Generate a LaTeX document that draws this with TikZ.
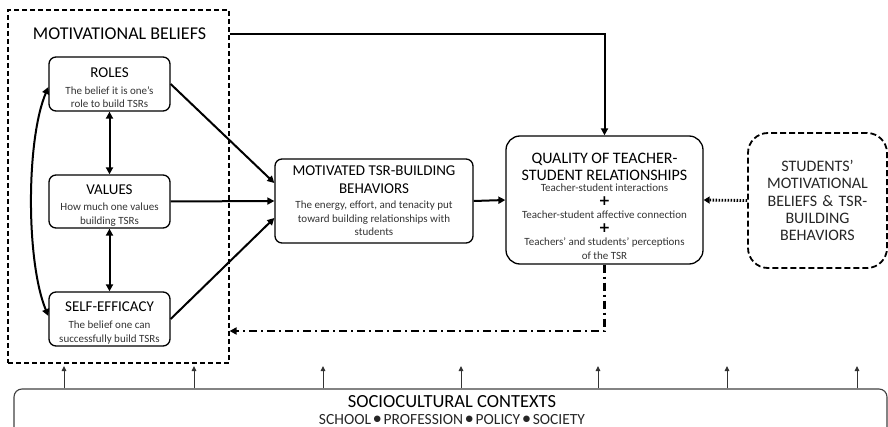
\documentclass[tikz,border=0pt]{standalone}
\usepackage{fontspec}
\setmainfont{Carlito}
\newfontfamily\symfont{DejaVu Sans}
\usetikzlibrary{arrows.meta,calc}
\newcommand\bxttl{\fontsize{15}{17}\selectfont}
\newcommand\qlttl{\fontsize{16}{17}\selectfont}
\newcommand\bxdsc{\fontsize{11}{13}\selectfont\color{black!80}}
\newcommand\plussign{\symfont\bfseries\fontsize{14}{13.5}\selectfont +}
\newcommand\socdot{\,\raisebox{2.6pt}{\symfont\fontsize{8.5}{8.5}\selectfont ●}\,}
\begin{document}
\begin{tikzpicture}[x=1pt,y=-1pt,
  rbox/.style={draw,line width=1.3pt,rounded corners=7pt,inner sep=0pt,align=center},
  thk/.style={line width=2pt},
  arr/.style={thk,-{Triangle[length=7pt,width=7pt]}},
  darr/.style={thk,{Triangle[length=7pt,width=7pt]}-{Triangle[length=7pt,width=7pt]}},
  soc/.style={draw=black!75,line width=1.1pt},
  socarr/.style={draw=black!80,line width=1pt,-{Triangle[length=5pt,width=4.5pt]}}]
\useasboundingbox (0,0) rectangle (888,427);
% motivational beliefs frame
\node[draw,line width=1.1pt,dash pattern=on 5pt off 3pt,minimum width=221pt,minimum height=353pt,inner sep=0pt] (mb) at (118.5,186.5) {};
\node[inner sep=0pt,font=\fontsize{18}{20}\selectfont] (mbt) at (119.5,34) {MOTIVATIONAL BELIEFS};
% belief boxes
\node[rbox,minimum width=121pt,minimum height=54pt,font=\fontsize{11}{12.5}\selectfont] (roles) at (109.5,84)
  {\rule{0pt}{17pt}\bxttl ROLES\\[5pt] \bxdsc The belief it is one’s\\ \bxdsc role to build TSRs};
\node[rbox,minimum width=121pt,minimum height=53pt,font=\fontsize{11}{14}\selectfont] (values) at (109.5,201.5)
  {\rule{0pt}{17pt}\bxttl VALUES\\[2pt] \bxdsc How much one values\\ \bxdsc building TSRs};
\node[rbox,minimum width=121pt,minimum height=54pt,font=\fontsize{11}{14}\selectfont] (self) at (109.5,319)
  {\rule{0pt}{18pt}\bxttl SELF-EFFICACY\\[3pt] \bxdsc The belief one can\\ \bxdsc successfully build TSRs};
% behaviors
\node[rbox,minimum width=198pt,minimum height=84pt,font=\fontsize{11}{13.5}\selectfont] (motiv) at (374,201)
  {\bxttl MOTIVATED TSR-BUILDING\\[4pt] \bxttl BEHAVIORS\\[2pt] \bxdsc The energy, effort, and tenacity put\\ \bxdsc toward building relationships with\\ \bxdsc students};
% quality
\node[rbox,minimum width=197pt,minimum height=128pt,rounded corners=14pt,font=\fontsize{11}{13.5}\selectfont] (qual) at (604.5,200)
  {\rule{0pt}{23pt}\qlttl QUALITY OF TEACHER-\\[3pt] \qlttl STUDENT RELATIONSHIPS\\[-2pt]
   \bxdsc Teacher-student interactions\\
   \plussign\\
   \bxdsc Teacher-student affective connection\\
   \plussign\\
   \bxdsc Teachers’ and students’ perceptions\\
   \bxdsc of the TSR};
% students
\node[draw,line width=1.8pt,dash pattern=on 6pt off 3pt,rounded corners=20pt,minimum width=139pt,minimum height=135pt,inner sep=0pt,text width=135pt,align=center,font=\fontsize{16}{17.3}\selectfont,text=black!85] (stud) at (817.5,200.5)
  {STUDENTS’\\ MOTIVATIONAL\\ BELIEFS \& TSR-\\ BUILDING\\ BEHAVIORS};
% sociocultural
\node[soc,rounded corners=8pt,minimum width=873pt,minimum height=70pt,inner sep=0pt] (socbox) at (450.5,424) {};
\node[inner sep=0pt,font=\fontsize{18.5}{19}\selectfont] (soct) at (452,401.5) {SOCIOCULTURAL CONTEXTS};
\node[inner sep=0pt,font=\fontsize{15.5}{16}\selectfont,text=black!85] (socs) at (452,419.5)
  {SCHOOL\socdot PROFESSION\socdot POLICY\socdot SOCIETY};
% connectors
\draw[darr] (roles.south) -- (values.north);
\draw[darr] (values.south) -- (self.north);
\draw[darr] ($(roles.west)+(0,3)$) .. controls (26,140) and (26,262) .. ($(self.west)+(0,-3)$);
\draw[arr] (roles.east) -- ($(motiv.west)+(0,-18)$);
\draw[arr] (values.east) -- (motiv.west);
\draw[arr] (self.east) -- ($(motiv.west)+(0,17)$);
\draw[arr] (motiv.east) -- (qual.west);
\draw[arr] (mbt -| mb.east) -| (qual.north);
\draw[line width=2.8pt,dash pattern=on 1.6pt off 1.4pt,-{Triangle[length=6pt,width=7pt]}] (stud.west) -- (qual.east);
\coordinate (ddturn) at (604,331);
\draw[line width=2.2pt,dash pattern=on 8pt off 4pt on 2pt off 4pt,-{Triangle[length=7pt,width=7pt]}] (qual.south) |- (mb.east |- ddturn);
\foreach \x [count=\i] in {64,194,323,461,598,727,857}{
  \coordinate (st\i) at (\x,366);
  \draw[socarr] (socbox.north -| st\i) -- (st\i);
}
\end{tikzpicture}
\end{document}
